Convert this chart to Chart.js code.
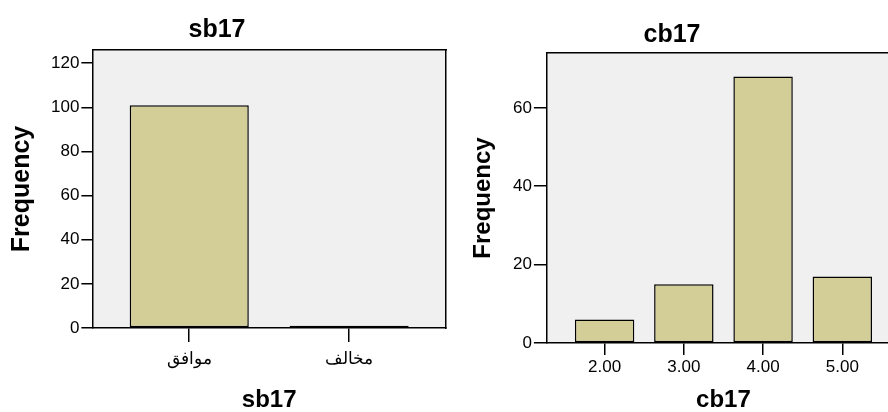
<!DOCTYPE html>
<html>
<head>
<meta charset="utf-8">
<script src="https://cdn.jsdelivr.net/npm/chart.js@4"></script>
<style>
html,body{margin:0;padding:0;width:888px;height:412px;overflow:hidden;background:#fff;position:relative;}
canvas{position:absolute;top:0;}
#c1{left:-12px;}
#c2{left:444px;}
</style>
</head>
<body>
<canvas id="c1" width="462" height="412"></canvas>
<canvas id="c2" width="466" height="412"></canvas>
<script>
// ---- data ----
const sbTitle = "sb17";
const sbCategories = ["موافق", "مخالف"];
const sbValues = [101, 1];
const sbYTicks = [0, 20, 40, 60, 80, 100, 120];

const cbTitle = "cb17";
const cbCategories = ["2.00", "3.00", "4.00", "5.00"];
const cbValues = [6, 15, 68, 17];
const cbYTicks = [0, 20, 40, 60];

const FONT = "'Liberation Sans', Arial, sans-serif";
const BAR_FILL = "#d3ce97";

const areaBg = {
  id: "areaBg",
  beforeDraw(chart) {
    const a = chart.chartArea, ctx = chart.ctx;
    ctx.save();
    ctx.fillStyle = "#f0f0f0";
    ctx.fillRect(a.left, a.top, a.right - a.left, a.bottom - a.top);
    ctx.restore();
  }
};

function makeChart(id, cfg) {
  const labels = cfg.categories;
  const data = labels.map((l, i) => ({ x: i + 1, y: cfg.values[i] }));
  return new Chart(document.getElementById(id), {
    type: "bar",
    data: {
      datasets: [{
        data,
        backgroundColor: BAR_FILL,
        borderColor: "#000",
        borderWidth: 1.5,
        borderSkipped: false,
        categoryPercentage: 1,
        barPercentage: cfg.barPct
      }]
    },
    plugins: [areaBg],
    options: {
      responsive: false,
      animation: false,
      layout: { padding: cfg.layoutPad },
      plugins: {
        legend: { display: false },
        tooltip: { enabled: false },
        title: {
          display: true,
          text: cfg.title,
          color: "#000",
          font: { family: FONT, size: cfg.titleSize, weight: "bold", lineHeight: 1.2 },
          padding: cfg.titlePad
        }
      },
      scales: {
        x: {
          type: "linear",
          position: "bottom",
          offset: false,
          min: cfg.xMin,
          max: cfg.xMax,
          afterBuildTicks: (ax) => { ax.ticks = labels.map((l, i) => ({ value: i + 1 })); },
          ticks: {
            callback: (v) => labels[Math.round(v) - 1],
            color: "#000",
            font: { family: FONT, size: 17 },
            padding: cfg.xTickPad,
            maxRotation: 0,
            autoSkip: false
          },
          grid: { display: true, offset: false, drawOnChartArea: false, drawTicks: true, tickLength: cfg.xTickLen, color: "#000", lineWidth: 1.5 },
          border: { display: true, color: "#000", width: 1.5 },
          title: {
            display: true,
            text: cfg.title,
            color: "#000",
            font: { family: FONT, size: 24, weight: "bold", lineHeight: 1 },
            padding: cfg.xTitlePad
          }
        },
        xTop: {
          type: "linear",
          position: "top",
          display: true,
          offset: false,
          ticks: { display: false },
          grid: { display: false, offset: false, drawTicks: false },
          border: { display: true, color: "#000", width: 1.5 }
        },
        y: {
          type: "linear",
          position: "left",
          min: 0,
          max: cfg.yMax,
          afterBuildTicks: (ax) => { ax.ticks = cfg.yTicks.map(v => ({ value: v })); },
          ticks: {
            color: "#000",
            font: { family: FONT, size: 17 },
            padding: 2
          },
          grid: { display: true, drawOnChartArea: false, drawTicks: true, tickLength: cfg.yTickLen, color: "#000", lineWidth: 1.5 },
          border: { display: true, color: "#000", width: 1.5 },
          title: {
            display: true,
            text: "Frequency",
            color: "#000",
            font: { family: FONT, size: cfg.yTitleSize, weight: "bold", lineHeight: 1 },
            padding: cfg.yTitlePad
          }
        },
        yRight: {
          type: "linear",
          position: "right",
          display: true,
          ticks: { display: false },
          grid: { display: false, drawTicks: false },
          border: { display: true, color: "#000", width: 1.5 }
        }
      }
    }
  });
}

makeChart("c1", {
  title: sbTitle, categories: sbCategories, values: sbValues, yTicks: sbYTicks,
  yMax: 126, xMin: 0.394, xMax: 2.606, barPct: 0.745,
  layoutPad: { left: 0, right: 4, top: 0, bottom: 0 },
  titleSize: 25, titlePad: { top: 15, bottom: 5 },
  xTickLen: 14, xTickPad: 7, xTitlePad: { top: 11.6, bottom: 0 },
  yTickLen: 11, yTitleSize: 25, yTitlePad: { top: 22, bottom: 14 }
});

makeChart("c2", {
  title: cbTitle, categories: cbCategories, values: cbValues, yTicks: cbYTicks,
  yMax: 74, xMin: 0.272, xMax: 4.728, barPct: 0.75,
  layoutPad: { left: 0, right: 10, top: 0, bottom: 0 },
  titleSize: 25, titlePad: { top: 20, bottom: 3 },
  xTickLen: 12, xTickPad: 2, xTitlePad: { top: 8.6, bottom: 0 },
  yTickLen: 13, yTitleSize: 24, yTitlePad: { top: 27, bottom: 16 }
});
</script>
</body>
</html>
